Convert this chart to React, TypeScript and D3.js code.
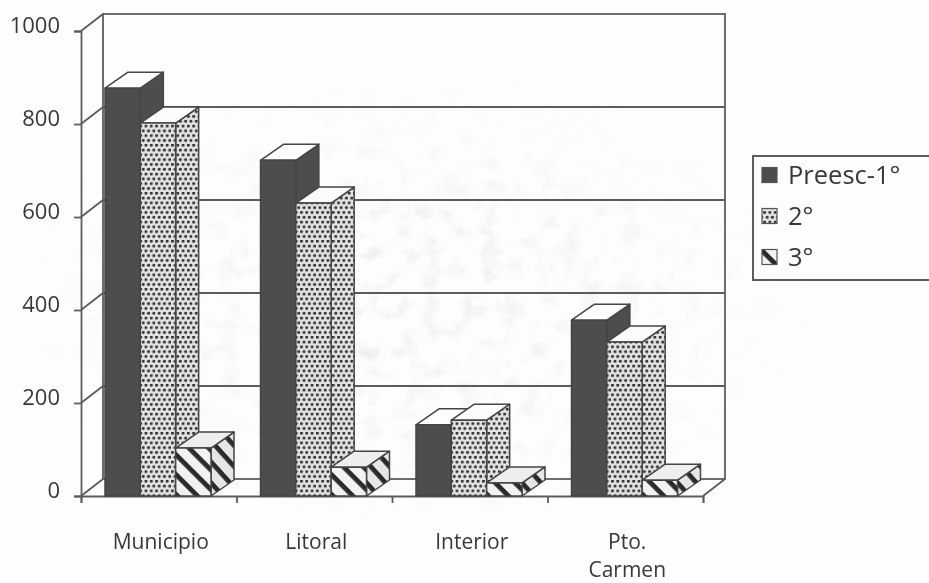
import React, { useEffect, useRef } from "react";
import * as d3 from "d3";

const categories = ["Municipio", "Litoral", "Interior", "Pto. Carmen"];
const seriesNames = ["Preesc-1°", "2°", "3°"];
const preescValues = [877, 722, 153, 378];
const segundoValues = [802, 630, 163, 331];
const terceroValues = [103, 62, 28, 34];
const yTicks = [0, 200, 400, 600, 800, 1000];

const INK = "#4d4d4d";
const TEXT = "#383838";
const LINE = "#5c5c5c";

export default function App() {
  const ref = useRef<SVGSVGElement>(null);

  useEffect(() => {
    if (!ref.current) return;
    d3.select(ref.current).selectAll("*").remove();

    const svg = d3.select(ref.current);
    const defs = svg.append("defs");

    // Scan softness
    const blur = defs.append("filter").attr("id", "soft");
    blur.append("feGaussianBlur").attr("stdDeviation", 0.6);

    // Paper mottling
    const paper = defs.append("filter").attr("id", "paper").attr("x", 0).attr("y", 0).attr("width", 1).attr("height", 1);
    paper.append("feTurbulence").attr("type", "fractalNoise").attr("baseFrequency", 0.05).attr("numOctaves", 4).attr("seed", 11);
    paper.append("feColorMatrix").attr("values", "0 0 0 0 0.6  0 0 0 0 0.6  0 0 0 0 0.6  1.8 0 0 0 -0.9");

    const fade = defs.append("radialGradient").attr("id", "fade");
    fade.append("stop").attr("offset", "0.25").attr("stop-color", "#fff").attr("stop-opacity", 0.4);
    fade.append("stop").attr("offset", "1").attr("stop-color", "#fff").attr("stop-opacity", 0);
    defs.append("mask").attr("id", "paperMask")
      .append("ellipse").attr("cx", 420).attr("cy", 300).attr("rx", 400).attr("ry", 230).attr("fill", "url(#fade)");

    // Fills
    const dots = defs.append("pattern").attr("id", "dots").attr("patternUnits", "userSpaceOnUse")
      .attr("width", 5.3).attr("height", 9.6);
    dots.append("rect").attr("width", 5.3).attr("height", 9.6).attr("fill", "#e2e2e2");
    [[1.3, 1.2], [3.95, 6]].forEach(([cx, cy]) => {
      dots.append("circle").attr("cx", cx).attr("cy", cy).attr("r", 1.55).attr("fill", "#333");
    });

    const stripes = defs.append("pattern").attr("id", "stripes").attr("patternUnits", "userSpaceOnUse")
      .attr("width", 14).attr("height", 14).attr("patternTransform", "rotate(45)");
    stripes.append("rect").attr("width", 14).attr("height", 14).attr("fill", "#f2f2f2");
    stripes.append("rect").attr("width", 14).attr("height", 4.8).attr("fill", "#2b2b2b");

    const stripesSide = defs.append("pattern").attr("id", "stripesSide").attr("patternUnits", "userSpaceOnUse")
      .attr("width", 14).attr("height", 14).attr("patternTransform", "rotate(48)");
    stripesSide.append("rect").attr("width", 14).attr("height", 14).attr("fill", "#e6e6e6");
    stripesSide.append("rect").attr("width", 14).attr("height", 4.8).attr("fill", "#2b2b2b");

    svg.append("rect").attr("width", 929).attr("height", 583).attr("fill", "#fdfdfd");
    svg.append("g").attr("mask", "url(#paperMask)")
      .append("rect").attr("width", 929).attr("height", 583).attr("filter", "url(#paper)");

    const root = svg.append("g").attr("filter", "url(#soft)");

    const margin = { left: 81, bottom: 496, right: 703, top: 31 };
    const depth = { x: 22, y: -17 };
    const barDepth = { x: 23, y: -16 };

    const y = d3.scaleLinear().domain([0, 1000]).range([margin.bottom, margin.top]);
    const x = d3.scaleBand<string>().domain(categories).range([margin.left, margin.right]);
    const inner = d3.scaleBand<string>().domain(seriesNames).range([24, 130]);

    // Back wall, floor and left wall
    const wall = root.append("g").attr("fill", "none").attr("stroke", LINE).attr("stroke-width", 1.8);
    wall.append("rect")
      .attr("x", margin.left + depth.x).attr("y", y(1000) + depth.y)
      .attr("width", margin.right - margin.left).attr("height", y(0) - y(1000));
    wall.selectAll("line.grid").data(yTicks.slice(1, -1)).join("line").attr("class", "grid")
      .attr("x1", margin.left + depth.x).attr("x2", margin.right + depth.x)
      .attr("y1", (d) => y(d) + depth.y).attr("y2", (d) => y(d) + depth.y);
    wall.selectAll("line.side").data(yTicks).join("line").attr("class", "side")
      .attr("x1", margin.left).attr("x2", margin.left + depth.x)
      .attr("y1", (d) => y(d)).attr("y2", (d) => y(d) + depth.y);
    wall.append("line")
      .attr("x1", margin.right).attr("x2", margin.right + depth.x)
      .attr("y1", y(0)).attr("y2", y(0) + depth.y);

    // Axes
    const yAxis = root.append("g").attr("transform", `translate(${margin.left},0)`)
      .call(d3.axisLeft(y).tickValues(yTicks).tickSize(7).tickPadding(14).tickFormat(d3.format("d")));
    yAxis.selectAll("text").attr("dy", "0.06em");

    const xAxis = root.append("g").attr("transform", `translate(0,${margin.bottom})`)
      .call(d3.axisBottom(d3.scaleLinear().domain([0, 4]).range([margin.left, margin.right])).ticks(4).tickSize(7).tickFormat(() => ""));

    [yAxis, xAxis].forEach((axis) => {
      axis.selectAll(".domain").attr("stroke", LINE).attr("stroke-width", 1.8);
      axis.selectAll("line").attr("stroke", LINE).attr("stroke-width", 1.8);
    });
    yAxis.selectAll("text").attr("fill", TEXT).style("font", "22px 'Open Sans'");

    // Bars
    const allValues = [preescValues, segundoValues, terceroValues];
    const fronts = [INK, "url(#dots)", "url(#stripes)"];
    const sides = [INK, "url(#dots)", "url(#stripesSide)"];
    const tops = ["#fdfdfd", "#fbfbfb", "#eeeeee"];

    categories.forEach((cat, c) => {
      const g = root.append("g").attr("transform", `translate(${x(cat)},0)`);
      seriesNames.forEach((name, s) => {
        const x0 = inner(name) as number;
        const x1 = x0 + inner.bandwidth();
        const yTop = y(allValues[s][c]);
        const yBase = y(0);
        const bar = g.append("g").attr("stroke", "#444").attr("stroke-width", 1.5).attr("stroke-linejoin", "round");
        const poly = (pts: [number, number][], fill: string) =>
          bar.append("path").attr("d", (d3.line()(pts) as string) + "Z").attr("fill", fill);
        poly([[x1, yTop], [x1 + barDepth.x, yTop + barDepth.y], [x1 + barDepth.x, yBase + barDepth.y], [x1, yBase]], sides[s]);
        poly([[x0, yTop], [x0 + barDepth.x, yTop + barDepth.y], [x1 + barDepth.x, yTop + barDepth.y], [x1, yTop]], tops[s]);
        poly([[x0, yTop], [x1, yTop], [x1, yBase], [x0, yBase]], fronts[s]);
      });
    });

    // Category labels
    const labels = root.append("g").attr("fill", TEXT).style("font", "21px 'Open Sans'").attr("text-anchor", "middle");
    categories.forEach((cat) => {
      const cx = (x(cat) as number) + x.bandwidth() / 2 + 2;
      const words = cat.startsWith("Pto") ? cat.split(" ") : [cat];
      words.forEach((w, i) => {
        labels.append("text").attr("x", cx).attr("y", 549 + i * 28).text(w);
      });
    });

    // Legend
    const legend = root.append("g");
    legend.append("rect").attr("x", 753).attr("y", 156).attr("width", 180).attr("height", 124)
      .attr("fill", "#fdfdfd").attr("stroke", LINE).attr("stroke-width", 2);
    const legendFills = [INK, "url(#dots)", "url(#stripes)"];
    const legendY = d3.scalePoint<string>().domain(seriesNames).range([175, 257]);
    seriesNames.forEach((name, i) => {
      const cy = legendY(name) as number;
      legend.append("rect").attr("x", 762).attr("y", cy - 7.5).attr("width", 15).attr("height", 15)
        .attr("fill", legendFills[i]).attr("stroke", "#555").attr("stroke-width", 1.2);
      legend.append("text").attr("x", 788).attr("y", cy + 9).attr("fill", TEXT)
        .style("font", "25.5px 'Open Sans'").text(name);
    });
  }, []);

  return <svg ref={ref} width={929} height={583} style={{ position: "absolute", left: 0, top: 0 }} />;
}
